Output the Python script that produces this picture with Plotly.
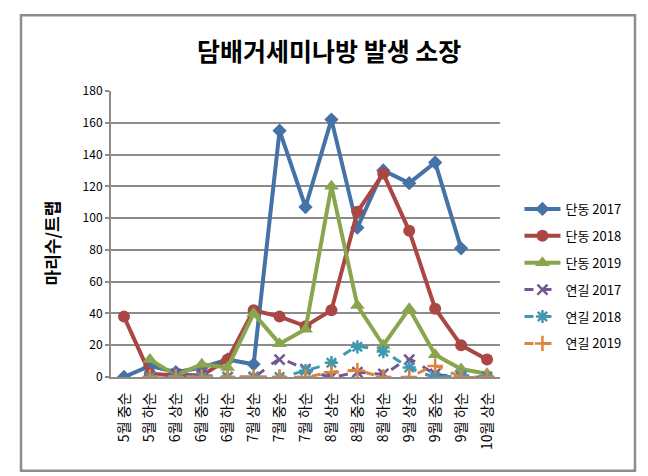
import plotly.graph_objects as go

FONT = "Noto Sans CJK KR"
GRID = "#8c8c8c"

categories = ["5월 중순", "5월 하순", "6월 상순", "6월 중순", "6월 하순",
              "7월 상순", "7월 중순", "7월 하순", "8월 상순", "8월 중순",
              "8월 하순", "9월 상순", "9월 중순", "9월 하순", "10월 상순"]

dandong_2017 = [0, 7, 3, 6, 11, 8, 155, 107, 162, 94, 130, 122, 135, 81, None]
dandong_2018 = [38, 2, 1, 1, 11, 42, 38, 32, 42, 104, 128, 92, 43, 20, 11]
dandong_2019 = [None, 11, 1, 8, 6, 40, 21, 30, 120, 45, 20, 43, 14, 5, 2]
yeongil_2017 = [None, 0, 2, 1, 0, 0, 11, 5, 0, 3, 2, 11, 2, 0, 0]
yeongil_2018 = [None, 0, 0, 0, 0, 0, 0, 4, 9, 19, 16, 6, 0, 1, 0]
yeongil_2019 = [None, 0, 0, 0, 0, 0, 0, 0, 3, 4, 0, 0, 7, 0, 0]

series = [
    ("단동 2017", dandong_2017, "#4572A7", "diamond", 11, "solid"),
    ("단동 2018", dandong_2018, "#AA4643", "circle", 12, "solid"),
    ("단동 2019", dandong_2019, "#89A54E", "triangle-up", 13, "solid"),
    ("연길 2017", yeongil_2017, "#71588F", "x-thin-open", 10, "dash"),
    ("연길 2018", yeongil_2018, "#4198AF", "asterisk-open", 11, "dash"),
    ("연길 2019", yeongil_2019, "#DB843D", "cross-thin-open", 11, "dash"),
]

fig = go.Figure()

for i, (name, vals, color, sym, size, dash) in enumerate(series):
    solid = dash == "solid"
    fig.add_trace(go.Scatter(
        x=categories, y=vals, name=name, mode="lines+markers",
        legendgroup=str(i),
        line=dict(color=color, width=4 if solid else 3, dash=dash,
                  shape="linear" if solid else "spline", smoothing=0.6),
        marker=dict(symbol=sym, size=size, color=color,
                    line=dict(color=color, width=0 if solid else 2.5)),
        connectgaps=False,
    ))

fig.update_layout(
    width=648, height=476,
    paper_bgcolor="white", plot_bgcolor="white",
    font=dict(family=FONT, size=12, color="black"),
    margin=dict(l=111, r=148, t=91, b=99, autoexpand=False),
    legend=dict(x=1.05, y=0.64, xanchor="left", yanchor="top",
                font=dict(family=FONT, size=13), itemwidth=36,
                tracegroupgap=7, bgcolor="rgba(0,0,0,0)"),
    showlegend=True,
    annotations=[
        dict(text="<b>담배거세미나방 발생 소장</b>", xref="paper", yref="paper",
             x=0.56, y=1.142, xanchor="center", yanchor="middle", showarrow=False,
             font=dict(family=FONT, size=25, color="black")),
        dict(text="<b>마리수/트랩</b>", xref="paper", yref="paper",
             x=-0.152, y=0.47, xanchor="center", yanchor="middle", showarrow=False,
             textangle=-90, font=dict(family=FONT, size=17, color="black")),
    ],
    shapes=[
        dict(type="rect", xref="paper", yref="paper",
             x0=(21 - 111) / 389, x1=(635 - 111) / 389,
             y0=(376.7 - 470.5) / 286, y1=(376.7 - 15) / 286,
             line=dict(color=GRID, width=2.5), fillcolor="rgba(0,0,0,0)",
             layer="below"),
    ],
)

fig.update_xaxes(
    type="category", range=[-0.5, 14.5], tickangle=-90,
    showline=True, linecolor=GRID, linewidth=2, showgrid=False,
    ticks="", ticklabelstandoff=8, tickfont=dict(family=FONT, size=14),
)
fig.update_yaxes(
    range=[0, 180], dtick=20, showgrid=True, gridcolor=GRID, gridwidth=2,
    showline=True, linecolor=GRID, linewidth=2, zeroline=False,
    ticks="outside", ticklen=4, tickcolor=GRID, tickwidth=2,
    tickfont=dict(family=FONT, size=12),
)

fig.write_html("out.html", config={"displayModeBar": False},
               post_script="document.body.style.margin='0';")
